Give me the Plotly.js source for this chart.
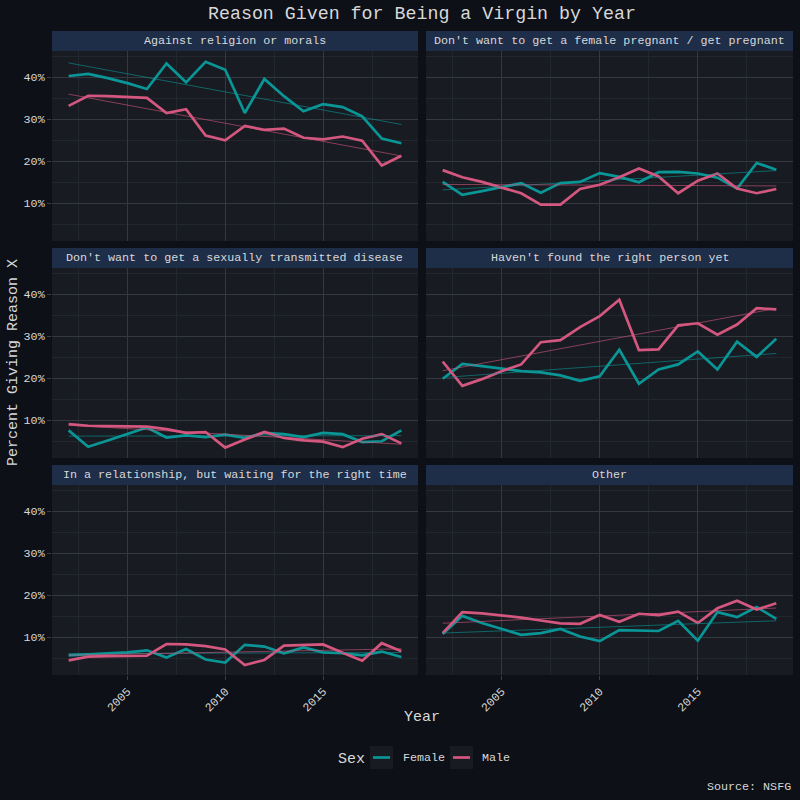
<!DOCTYPE html>
<html>
<head>
<meta charset="utf-8">
<script src="https://cdn.plot.ly/plotly-3.0.1.min.js"></script>
<style>html,body{margin:0;padding:0;background:#0d1017;}#chart{width:800px;height:800px;}</style>
</head>
<body>
<div id="chart"></div>
<script>
const years = [2002,2003,2004,2005,2006,2007,2008,2009,2010,2011,2012,2013,2014,2015,2016,2017,2018,2019];
const reasons = [
  "Against religion or morals",
  "Don't want to get a female pregnant / get pregnant",
  "Don't want to get a sexually transmitted disease",
  "Haven't found the right person yet",
  "In a relationship, but waiting for the right time",
  "Other"
];
const sexes = ["Female", "Male"];
// Percent values per reason, per year
const femaleReligion   = [40.3,40.8,39.8,38.6,37.2,43.3,38.8,43.7,41.8,31.5,39.6,35.5,31.9,33.6,32.9,30.7,25.4,24.3];
const maleReligion     = [33.2,35.6,35.5,35.3,35.1,31.5,32.4,26.1,25.0,28.4,27.5,27.8,25.6,25.2,25.9,24.9,19.0,21.3];
const femalePregnant   = [15.1,12.0,12.9,13.9,14.8,12.5,14.8,15.1,17.2,16.3,15.0,17.4,17.5,17.1,16.1,13.5,19.6,18.0];
const malePregnant     = [17.9,16.2,15.1,13.7,12.4,9.7,9.7,13.4,14.4,16.2,18.3,16.4,12.4,15.4,17.1,13.5,12.4,13.4];
const femaleSTD        = [7.6,3.7,5.2,6.8,8.3,5.9,6.4,6.0,6.6,5.8,7.0,6.7,6.0,7.0,6.7,4.8,5.0,7.6];
const maleSTD          = [9.1,8.7,8.6,8.6,8.5,7.9,7.0,7.2,3.5,5.4,7.2,5.8,5.2,4.9,3.6,5.6,6.7,4.5];
const femaleNoPerson   = [19.9,23.4,22.9,22.3,21.7,21.4,20.7,19.4,20.5,26.8,18.7,22.1,23.3,26.4,22.1,28.7,25.1,29.4];
const maleNoPerson     = [24.0,18.2,19.8,21.7,23.3,28.6,29.1,32.2,34.8,38.7,26.7,26.9,32.6,33.1,30.4,32.8,36.7,36.4];
const femaleWaiting    = [5.7,6.0,6.2,6.4,6.9,5.2,7.2,4.7,4.0,8.2,7.8,6.2,7.6,6.4,6.2,5.7,6.6,5.3];
const maleWaiting      = [4.5,5.4,5.5,5.6,5.6,8.4,8.3,7.9,7.1,3.4,4.6,8.0,8.2,8.3,6.3,4.4,8.6,6.7];
const femaleOther      = [10.8,15.1,13.4,12.0,10.6,11.0,12.0,10.2,9.1,11.7,11.6,11.5,13.9,9.2,16.0,14.8,17.2,14.4];
const maleOther        = [11.0,16.0,15.7,15.2,14.7,14.0,13.3,13.2,15.3,13.7,15.6,15.3,16.1,13.4,16.9,18.7,16.6,18.1];
const femaleSeries = [femaleReligion, femalePregnant, femaleSTD, femaleNoPerson, femaleWaiting, femaleOther];
const maleSeries   = [maleReligion, malePregnant, maleSTD, maleNoPerson, maleWaiting, maleOther];
const yTicks = [10,20,30,40];
const xTicks = [2005,2010,2015];

const TEAL = '#0a9696';
const PINK = '#d4577f';
const TEAL_T = 'rgba(10,150,150,0.6)';
const PINK_T = 'rgba(212,87,127,0.6)';
const FONT = 'Liberation Mono, DejaVu Sans Mono, monospace';
const TXT = '#d8d8d8';
const SMALL = 11.7;

function linfit(xs, ys) {
  const n = xs.length;
  let sx=0, sy=0, sxx=0, sxy=0;
  for (let i=0;i<n;i++){sx+=xs[i];sy+=ys[i];sxx+=xs[i]*xs[i];sxy+=xs[i]*ys[i];}
  const b=(n*sxy-sx*sy)/(n*sxx-sx*sx);
  const a=(sy-b*sx)/n;
  return [a+b*xs[0], a+b*xs[n-1]];
}

const colX = [[52/800, 418/800], [426/800, 793/800]];
const rowY = [[1-241/800, 1-51/800], [1-458/800, 1-268/800], [1-675/800, 1-485/800]];
const stripPx = [[31,51],[248,268],[465,485]];
const P = v => v/800;          // px -> paper x
const Q = v => 1 - v/800;      // px -> paper y

const traces = [];
const layout = {
  width: 800, height: 800,
  paper_bgcolor: '#0d1017', plot_bgcolor: '#181b22',
  margin: {l:0, r:0, t:0, b:0},
  font: {family: FONT, color: TXT, size: SMALL},
  showlegend: false,
  shapes: [], annotations: []
};

for (let k=0; k<6; k++) {
  const r = Math.floor(k/2), c = k%2;
  const xa = 'x' + (k===0 ? '' : (k+1));
  const ya = 'y' + (k===0 ? '' : (k+1));
  const xkey = 'xaxis' + (k===0 ? '' : (k+1));
  const ykey = 'yaxis' + (k===0 ? '' : (k+1));
  const bottom = (r===2), left = (c===0);
  layout[xkey] = {
    domain: colX[c], anchor: ya, range: [2001.15, 2019.85],
    tickvals: xTicks, ticktext: xTicks.map(String), showticklabels: bottom,
    ticks: bottom ? 'outside' : '', ticklen: 4, tickcolor: '#3a3e45',
    tickangle: -45, tickfont: {family: FONT, color: TXT, size: SMALL},
    showgrid: true, gridcolor: '#34383f', gridwidth: 1, zeroline: false, showline: false,
    minor: {tick0: 2002.5, dtick: 5, showgrid: true, gridcolor: '#22262d', gridwidth: 1, ticks: ''},
    fixedrange: true
  };
  layout[ykey] = {
    domain: rowY[r], anchor: xa, range: [1.02, 46.26],
    tickvals: yTicks, ticktext: yTicks.map(v => v + '%'), showticklabels: left,
    ticks: left ? 'outside' : '', ticklen: 4, tickcolor: '#3a3e45',
    tickfont: {family: FONT, color: TXT, size: SMALL},
    showgrid: true, gridcolor: '#34383f', gridwidth: 1, zeroline: false, showline: false,
    minor: {tick0: 5, dtick: 10, showgrid: true, gridcolor: '#22262d', gridwidth: 1, ticks: ''},
    fixedrange: true
  };
  traces.push({x: years, y: femaleSeries[k], xaxis: xa, yaxis: ya, type: 'scatter', mode: 'lines',
    line: {color: TEAL, width: 2.7}, name: sexes[0], hoverinfo: 'skip'});
  traces.push({x: years, y: maleSeries[k], xaxis: xa, yaxis: ya, type: 'scatter', mode: 'lines',
    line: {color: PINK, width: 2.7}, name: sexes[1], hoverinfo: 'skip'});
  const ft = linfit(years, femaleSeries[k]);
  const mt = linfit(years, maleSeries[k]);
  traces.push({x: [years[0], years[years.length-1]], y: ft, xaxis: xa, yaxis: ya, type: 'scatter', mode: 'lines',
    line: {color: TEAL_T, width: 1}, name: sexes[0] + ' trend', hoverinfo: 'skip'});
  traces.push({x: [years[0], years[years.length-1]], y: mt, xaxis: xa, yaxis: ya, type: 'scatter', mode: 'lines',
    line: {color: PINK_T, width: 1}, name: sexes[1] + ' trend', hoverinfo: 'skip'});
  // strip
  const sp = stripPx[r];
  layout.shapes.push({type: 'rect', xref: 'paper', yref: 'paper', x0: colX[c][0], x1: colX[c][1],
    y0: Q(sp[1]), y1: Q(sp[0]), fillcolor: '#1e2d48', line: {width: 0}, layer: 'below'});
  layout.annotations.push({xref: 'paper', yref: 'paper', x: (colX[c][0]+colX[c][1])/2, y: Q((sp[0]+sp[1])/2),
    xanchor: 'center', yanchor: 'middle', showarrow: false, text: reasons[k],
    font: {family: FONT, color: TXT, size: SMALL}});
}

layout.annotations.push({xref: 'paper', yref: 'paper', x: P(422), y: Q(14), xanchor: 'center', yanchor: 'middle',
  showarrow: false, text: 'Reason Given for Being a Virgin by Year', font: {family: FONT, color: TXT, size: 18.3}});
layout.annotations.push({xref: 'paper', yref: 'paper', x: P(422), y: Q(717), xanchor: 'center', yanchor: 'middle',
  showarrow: false, text: 'Year', font: {family: FONT, color: TXT, size: 15}});
layout.annotations.push({xref: 'paper', yref: 'paper', x: P(13), y: Q(363), xanchor: 'center', yanchor: 'middle',
  showarrow: false, text: 'Percent Giving Reason X', textangle: -90, font: {family: FONT, color: TXT, size: 15}});
layout.annotations.push({xref: 'paper', yref: 'paper', x: P(793), y: Q(787), xanchor: 'right', yanchor: 'middle',
  showarrow: false, text: 'Source: NSFG', font: {family: FONT, color: TXT, size: SMALL}});

// legend (ggplot-style keys)
layout.annotations.push({xref: 'paper', yref: 'paper', x: P(336), y: Q(759), xanchor: 'left', yanchor: 'middle',
  showarrow: false, text: 'Sex', font: {family: FONT, color: TXT, size: 15}});
const keys = [{x0: 370, col: TEAL, label: sexes[0], tx: 401}, {x0: 450, col: PINK, label: sexes[1], tx: 480}];
keys.forEach(kd => {
  layout.shapes.push({type: 'rect', xref: 'paper', yref: 'paper', x0: P(kd.x0), x1: P(kd.x0+23), y0: Q(769), y1: Q(746),
    fillcolor: '#181b22', line: {width: 0}});
  layout.shapes.push({type: 'line', xref: 'paper', yref: 'paper', x0: P(kd.x0+3), x1: P(kd.x0+20), y0: Q(757.5), y1: Q(757.5),
    line: {color: kd.col, width: 2.7}});
  layout.annotations.push({xref: 'paper', yref: 'paper', x: P(kd.tx), y: Q(757.5), xanchor: 'left', yanchor: 'middle',
    showarrow: false, text: kd.label, font: {family: FONT, color: TXT, size: SMALL}});
});

Plotly.newPlot('chart', traces, layout, {staticPlot: true, displayModeBar: false});
</script>
</body>
</html>
